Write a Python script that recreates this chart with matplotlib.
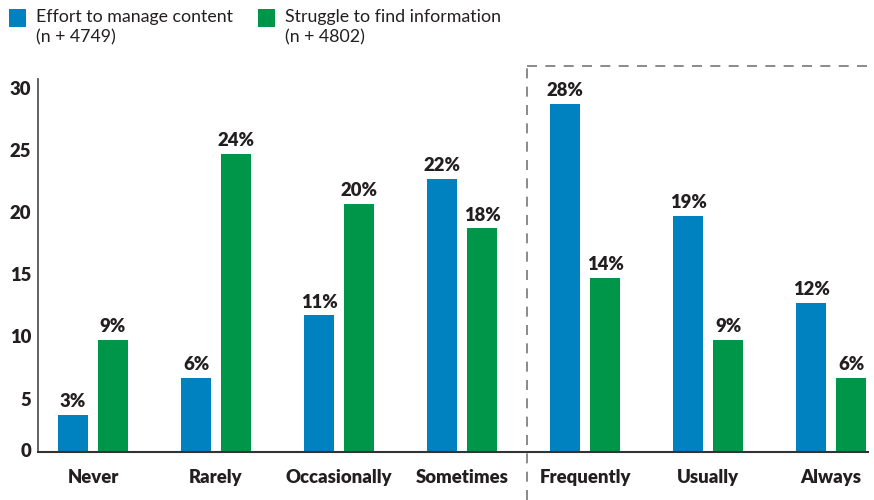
import matplotlib
matplotlib.use("Agg")
import matplotlib.pyplot as plt
from matplotlib.lines import Line2D
from matplotlib.patches import Rectangle
from matplotlib.transforms import ScaledTranslation
import numpy as np

categories = ["Never", "Rarely", "Occasionally", "Sometimes", "Frequently", "Usually", "Always"]
effort = [3, 6, 11, 22, 28, 19, 12]
struggle = [9, 24, 20, 18, 14, 9, 6]
series_names = ["Effort to manage content", "Struggle to find information"]
series_n = ["(n + 4749)", "(n + 4802)"]
yticks = [0, 5, 10, 15, 20, 25, 30]

BLUE = "#0081C0"
GREEN = "#00964A"
TEXT = "#231F20"

plt.rcParams['font.family'] = ['Lato', 'DejaVu Sans']
BW = "heavy"
FS = 13.3

fig = plt.figure(figsize=(8.74, 5.0), dpi=100)
W, H = 874, 500
ax = fig.add_axes([38 / W, 47.7 / H, (868 - 38) / W, (452.3 - 79.1) / H])

x = np.arange(len(categories))
bw = 30 / 123
off = 20 / 123
b1 = ax.bar(x - off, effort, bw, color=BLUE)
b2 = ax.bar(x + off, struggle, bw, color=GREEN)

for bars, vals in ((b1, effort), (b2, struggle)):
    for b, v in zip(bars, vals):
        ax.annotate(f"{v}%", (b.get_x() + b.get_width() / 2, v), xytext=(0, 3.5),
                    textcoords="offset points", ha="center", va="bottom",
                    fontsize=FS, fontweight=BW, color=TEXT)

ax.set_xlim(-0.447, len(categories) - 1 + 0.30)
ax.set_ylim(0, 30)
ax.set_xticks(x)
ax.set_xticklabels(categories, fontsize=FS, fontweight=BW, color=TEXT)
ax.set_yticks(yticks)
ax.set_yticklabels([str(t) for t in yticks], fontsize=FS, fontweight=BW, color=TEXT)
ax.tick_params(axis="x", length=0, pad=12)
ax.tick_params(axis="y", length=0, pad=5)
for lab, t in zip(ax.get_yticklabels(), yticks):
    dy = 2 if t == 0 else -8.5
    lab.set_transform(lab.get_transform() + ScaledTranslation(0, dy / 100, fig.dpi_scale_trans))

for s in ("top", "right"):
    ax.spines[s].set_visible(False)
ax.spines["left"].set_color("#555555")
ax.spines["left"].set_linewidth(1.3)
ax.spines["bottom"].set_color("#333333")
ax.spines["bottom"].set_linewidth(1.5)

# dashed highlight box
dash = dict(color="#777777", linewidth=1.2, linestyle=(0, (6, 5)))
fig.add_artist(Line2D([526.5 / W, 526.5 / W], [0, 1 - 65.7 / H], transform=fig.transFigure, **dash))
fig.add_artist(Line2D([526.5 / W, 1.0], [1 - 65.7 / H, 1 - 65.7 / H], transform=fig.transFigure, **dash))

# legend
for i, (name, nn, col) in enumerate(zip(series_names, series_n, (BLUE, GREEN))):
    x0 = [9, 258][i]
    fig.add_artist(Rectangle((x0 / W, 1 - 26.5 / H), 17 / W, 17 / H, transform=fig.transFigure,
                             facecolor=col, edgecolor="none"))
    fig.text((x0 + 27) / W, 1 - 22 / H, name, ha="left", va="baseline", fontsize=12.8, color=TEXT)
    fig.text((x0 + 27) / W, 1 - 42 / H, nn, ha="left", va="baseline", fontsize=12.8, color=TEXT)

fig.savefig("out.png", dpi=100)
